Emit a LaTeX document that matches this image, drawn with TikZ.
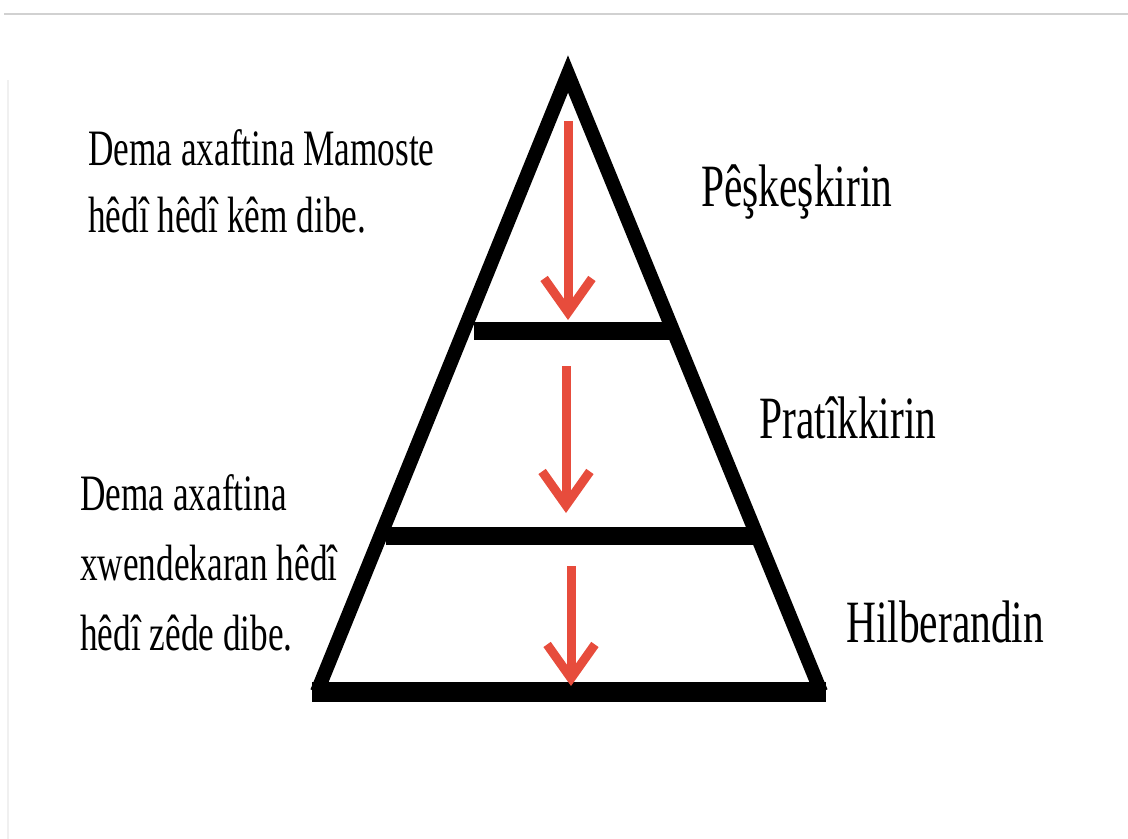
\documentclass[tikz,border=0pt]{standalone}
\usepackage{fontspec}
\setmainfont{Liberation Serif}
\usepackage{graphicx}
\usetikzlibrary{calc}
\usetikzlibrary{arrows.meta}
\definecolor{arrowred}{HTML}{E74C3C}
\newcommand{\sq}[1]{\scalebox{0.69}[1]{#1}}

\begin{document}
\begin{tikzpicture}[x=0.025cm,y=-0.025cm]
	 \tikzstyle{side}=[draw,line width=10pt,black,line join=miter]
	 \tikzstyle{floor}=[draw,line width=14pt,black]
	 \tikzstyle{bar}=[draw,line width=13pt,black]
	 \tikzstyle{flow}=[draw,line width=6.4pt,arrowred,-{Straight Barb[length=24pt,width=34pt]}]
	 \tikzstyle{note}=[anchor=north west,inner sep=0pt,align=left]
	 \tikzstyle{stage}=[anchor=base west,inner sep=0pt,font=\fontsize{42.7}{50}\selectfont]
	 \useasboundingbox (0,0) rectangle (1128,839);
	 \draw[black!18,line width=1pt] (4,14) -- (1128,14);
	 \draw[black!6,line width=1pt] (8,80) -- (8,839);
	 % pyramid corners and bars
	 \coordinate (apex) at (568,74);
	 \coordinate (bl) at (317,692);
	 \coordinate (br) at (821,692);
	 \coordinate (b1l) at (474,331);
	 \coordinate (b1r) at (672,331);
	 \coordinate (b2l) at (386,536);
	 \coordinate (b2r) at (757,536);
	 \draw[side] (bl) -- (apex) -- (br);
	 \draw[floor] ($(bl)+(-5,0)$) -- ($(br)+(5,0)$);
	 \draw[bar] (b1l) -- (b1r);
	 \draw[bar] (b2l) -- (b2r);
	 % arrows
	 \coordinate (a1s) at (568,121);
	 \coordinate (a1e) at (568,320);
	 \coordinate (a2s) at (566,366);
	 \coordinate (a2e) at (566,513);
	 \coordinate (a3s) at (571,566);
	 \coordinate (a3e) at (571,686);
	 \draw[flow] (a1s) -- (a1e);
	 \draw[flow] (a2s) -- (a2e);
	 \draw[flow] (a3s) -- (a3e);
	 % texts
	 \node[note,font=\fontsize{36.3}{47.7}\selectfont] (teacher) at (88,129) {\sq{Dema axaftina Mamoste}\\\sq{hêdî hêdî kêm dibe.}};
	 \node[note,font=\fontsize{36.3}{49.8}\selectfont] (students) at (80,474) {\sq{Dema axaftina}\\\sq{xwendekaran hêdî}\\\sq{hêdî zêde dibe.}};
	 \node[stage] (present) at (701,207) {\sq{Pêşkeşkirin}};
	 \node[stage] (practice) at (759,438) {\sq{Pratîkkirin}};
	 \node[stage] (produce) at (846,642) {\sq{Hilberandin}};
\end{tikzpicture}
\end{document}
